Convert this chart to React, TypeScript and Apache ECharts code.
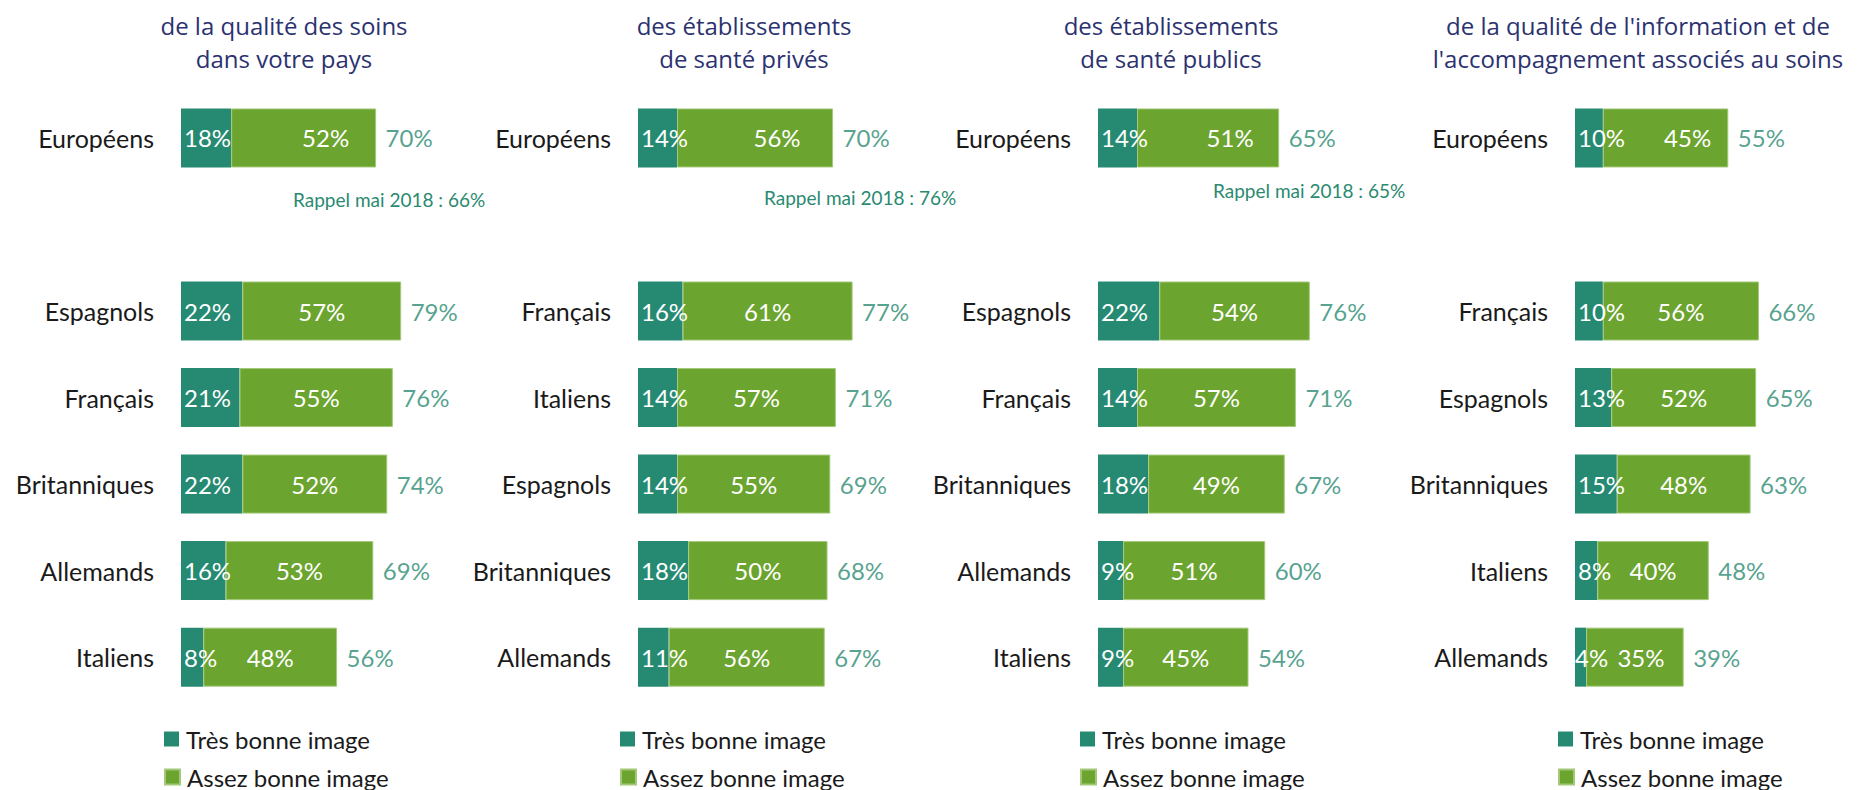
import React, { useEffect, useRef } from "react";
import * as echarts from "echarts";

const TITLES = [
  "de la qualité des soins\ndans votre pays",
  "des établissements\nde santé privés",
  "des établissements\nde santé publics",
  "de la qualité de l'information et de\nl'accompagnement associés au soins",
];

const EU_LABEL = "Européens";
const EU_TRES = [18, 14, 14, 10];
const EU_ASSEZ = [52, 56, 51, 45];
const EU_TOTAL = [70, 70, 65, 55];
const RAPPELS = ["Rappel mai 2018 : 66%", "Rappel mai 2018 : 76%", "Rappel mai 2018 : 65%", ""];

const P1_COUNTRIES = ["Espagnols", "Français", "Britanniques", "Allemands", "Italiens"];
const P1_TRES = [22, 21, 22, 16, 8];
const P1_ASSEZ = [57, 55, 52, 53, 48];
const P1_TOTAL = [79, 76, 74, 69, 56];

const P2_COUNTRIES = ["Français", "Italiens", "Espagnols", "Britanniques", "Allemands"];
const P2_TRES = [16, 14, 14, 18, 11];
const P2_ASSEZ = [61, 57, 55, 50, 56];
const P2_TOTAL = [77, 71, 69, 68, 67];

const P3_COUNTRIES = ["Espagnols", "Français", "Britanniques", "Allemands", "Italiens"];
const P3_TRES = [22, 14, 18, 9, 9];
const P3_ASSEZ = [54, 57, 49, 51, 45];
const P3_TOTAL = [76, 71, 67, 60, 54];

const P4_COUNTRIES = ["Français", "Espagnols", "Britanniques", "Italiens", "Allemands"];
const P4_TRES = [10, 13, 15, 8, 4];
const P4_ASSEZ = [56, 52, 48, 40, 35];
const P4_TOTAL = [66, 65, 63, 48, 39];

const SERIES_NAMES = ["Très bonne image", "Assez bonne image"];

const PANELS = [
  { countries: P1_COUNTRIES, tres: P1_TRES, assez: P1_ASSEZ, total: P1_TOTAL },
  { countries: P2_COUNTRIES, tres: P2_TRES, assez: P2_ASSEZ, total: P2_TOTAL },
  { countries: P3_COUNTRIES, tres: P3_TRES, assez: P3_ASSEZ, total: P3_TOTAL },
  { countries: P4_COUNTRIES, tres: P4_TRES, assez: P4_ASSEZ, total: P4_TOTAL },
];

// layout (pixels)
const GRID_LEFT = [181, 638, 1098, 1575];
const TITLE_X = [284, 744, 1171, 1638];
const LEGEND_X = [164, 620, 1080, 1558];
const LEGEND_Y = [727, 765];
const RAPPEL_POS = [[293, 199], [764, 197], [1213, 190]];
const GRID_TOP = 94.7;
const GRID_H = 605.7;
const GRID_W = 278.7;

const TEAL = "#268a72";
const GREEN = "#6ba42e";
const TEXT_TEAL = "#2a8a71";
const NAVY = "#2b326f";
const FONT = "Lato, 'Noto Sans', sans-serif";
const TITLE_FONT = "'Open Sans', 'Noto Sans', sans-serif";

export default function App() {
  const ref = useRef<HTMLDivElement>(null);

  useEffect(() => {
    if (!ref.current) return;
    const chart = echarts.init(ref.current, null, { renderer: "svg" });

    const grid: any[] = [];
    const xAxis: any[] = [];
    const yAxis: any[] = [];
    const series: any[] = [];
    const legend: any[] = [];
    const title: any[] = [];
    const graphic: any[] = [];

    PANELS.forEach((p, i) => {
      const cats = [EU_LABEL, "", ...p.countries];
      const tres = [EU_TRES[i], null, ...p.tres];
      const assez = [EU_ASSEZ[i], null, ...p.assez];
      const total = [EU_TOTAL[i], null, ...p.total];

      grid.push({ left: GRID_LEFT[i], top: GRID_TOP, width: GRID_W, height: GRID_H });
      xAxis.push({ type: "value", gridIndex: i, min: 0, max: 100, show: false });
      yAxis.push({
        type: "category",
        gridIndex: i,
        data: cats,
        inverse: true,
        axisLine: { show: false },
        axisTick: { show: false },
        splitLine: { show: false },
        axisLabel: { margin: 27, fontSize: 25, color: "#1a1a1a", fontFamily: FONT },
      });

      series.push({
        name: SERIES_NAMES[0],
        type: "bar",
        stack: "s" + i,
        xAxisIndex: i,
        yAxisIndex: i,
        barWidth: 59,
        itemStyle: { color: TEAL },
        label: {
          show: true,
          position: "insideLeft",
          distance: 3,
          color: "#ffffff",
          fontSize: 24,
          fontFamily: FONT,
          formatter: (d: any) => d.value + "%",
        },
        data: tres.map((v) =>
          v != null && v < 6 ? { value: v, label: { distance: 0 } } : v
        ),
      });
      series.push({
        name: SERIES_NAMES[1],
        type: "bar",
        stack: "s" + i,
        xAxisIndex: i,
        yAxisIndex: i,
        barWidth: 59,
        itemStyle: { color: GREEN, borderColor: "#a2c878", borderWidth: 1 },
        label: {
          show: true,
          position: "inside",
          color: "#ffffff",
          fontSize: 24,
          fontFamily: FONT,
          formatter: (d: any) => d.value + "%",
        },
        data: assez.map((v, k) => {
          if (k === 0) return { value: v, label: { offset: [22, 0] } };
          const t = tres[k];
          if (t != null && t < 6) return { value: v, label: { offset: [6, 0] } };
          return v;
        }),
      });
      series.push({
        name: "total" + i,
        type: "scatter",
        xAxisIndex: i,
        yAxisIndex: i,
        symbolSize: 1,
        itemStyle: { color: "rgba(0,0,0,0)" },
        label: {
          show: true,
          position: "right",
          distance: 9,
          color: TEXT_TEAL,
          fontSize: 24,
          fontFamily: FONT,
          formatter: (d: any) => d.value[0] + "%",
        },
        data: total.map((v, k) => (v == null ? null : [v, cats[k]])).filter((d) => d),
      });

      SERIES_NAMES.forEach((nm, j) => {
        legend.push({
          data: [nm],
          orient: "vertical",
          left: LEGEND_X[i],
          top: LEGEND_Y[j],
          padding: 0,
          itemWidth: 15,
          itemHeight: 15,
          icon: "rect",
          selectedMode: false,
          textStyle: { fontSize: 24, lineHeight: 24, color: "#1a1a1a", fontFamily: FONT, padding: [0, 0, 0, 2] },
        });
      });

      title.push({
        text: TITLES[i],
        left: TITLE_X[i],
        top: 9,
        padding: 0,
        textAlign: "center",
        textStyle: {
          fontSize: 24,
          fontWeight: 400,
          lineHeight: 33,
          color: NAVY,
          fontFamily: TITLE_FONT,
        },
      });

      if (RAPPELS[i]) {
        graphic.push({
          type: "text",
          x: RAPPEL_POS[i][0],
          y: RAPPEL_POS[i][1],
          style: {
            text: RAPPELS[i],
            fill: TEXT_TEAL,
            fontSize: 19,
            fontFamily: FONT,
            verticalAlign: "middle",
          },
        });
      }
    });

    chart.setOption({
      animation: false,
      backgroundColor: "#ffffff",
      title,
      legend,
      grid,
      xAxis,
      yAxis,
      series,
      graphic,
    });

    return () => chart.dispose();
  }, []);

  return (
    <div
      ref={ref}
      style={{ position: "absolute", left: 0, top: 0, width: 1861, height: 790 }}
    />
  );
}
